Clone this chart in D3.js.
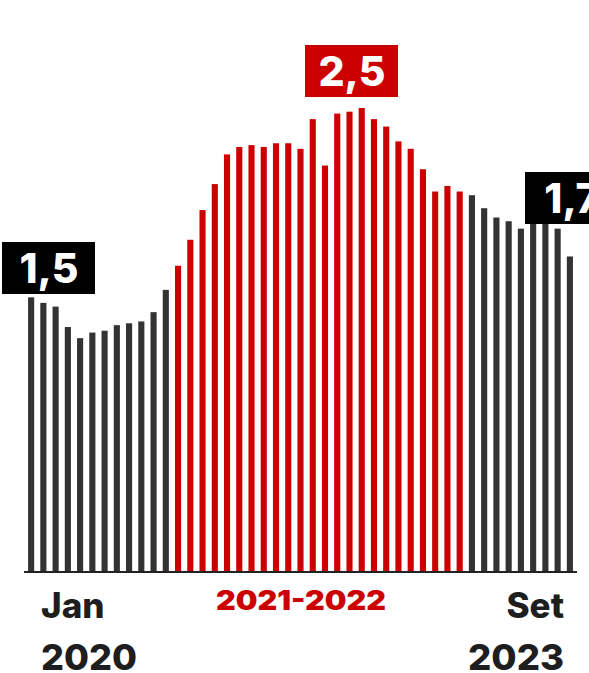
<!DOCTYPE html>
<html>
<head>
<meta charset="utf-8">
<script src="https://cdn.jsdelivr.net/npm/d3@7"></script>
<style>
  body { margin: 0; background: #fff; }
  svg { display: block; }
</style>
</head>
<body>
<script type="text/javascript">
	// monthly values, Jan 2020 .. Set 2023
	var months = d3.range(45).map(function(i) { return "m" + i; });
	var values = [
		1.48, 1.45, 1.43, 1.32, 1.26, 1.29, 1.30, 1.33, 1.34, 1.35, 1.40, 1.52,
		1.65, 1.79, 1.95, 2.09, 2.25, 2.29, 2.30, 2.29, 2.31, 2.31, 2.28, 2.44,
		2.19, 2.47, 2.48, 2.50, 2.44, 2.40, 2.32, 2.28, 2.17, 2.05, 2.08, 2.05,
		2.03, 1.96, 1.91, 1.89, 1.85, 1.92, 1.93, 1.85, 1.70
	];
	// months highlighted (2021-2022)
	var highlightStart = 12, highlightEnd = 35;
	var callouts = [
		{ index: 0, text: "1,5", fill: "#000" },
		{ index: 27, text: "2,5", fill: "#cc0000" },
		{ index: 44, text: "1,7", fill: "#000" }
	];
	var bottomLabels = [
		{ text: "Jan", anchor: "start", row: 0, side: "left" },
		{ text: "2020", anchor: "start", row: 1, side: "left" },
		{ text: "Set", anchor: "end", row: 0, side: "right" },
		{ text: "2023", anchor: "end", row: 1, side: "right" }
	];

	var width = 589, height = 673;
	var base = 572;
	var red = "#cc0000", grey = "#333333";
	var font = "Inter, 'Liberation Sans', sans-serif";

	var svg = d3.select("body")
				.append("svg")
				.attr("width", width)
				.attr("height", height);

	var x = d3.scaleBand()
				.domain(months)
				.range([25, 576])
				.paddingInner(0.5)
				.paddingOuter(0.25);

	var y = d3.scaleLinear()
				.domain([0, 2.5])
				.range([base, 108]);

	// bars
	svg.selectAll("rect.bar")
				.data(values)
				.enter()
				.append("rect")
				.attr("class", "bar")
				.attr("x", function(d, i) { return x(months[i]); })
				.attr("y", function(d) { return y(d); })
				.attr("width", x.bandwidth())
				.attr("height", function(d) { return base - y(d); })
				.attr("fill", function(d, i) {
					return (i >= highlightStart && i <= highlightEnd) ? red : grey;
				});

	// baseline
	svg.append("line")
				.attr("x1", 24)
				.attr("x2", 577)
				.attr("y1", base)
				.attr("y2", base)
				.style("stroke", "#222")
				.style("stroke-width", 2);

	// callout boxes
	var boxX = { 0: 2, 27: 305, 44: 525 };
	var boxY = { 0: 242, 27: 45, 44: 172 };
	callouts.forEach(function(c) {
		var bx = boxX[c.index], by = boxY[c.index];
		svg.append("rect")
					.attr("x", bx)
					.attr("y", by)
					.attr("width", 93)
					.attr("height", 52)
					.attr("fill", c.fill);
		svg.append("text")
					.attr("x", bx + 47)
					.attr("y", by + 41)
					.attr("text-anchor", "middle")
					.text(c.text)
					.attr("font-family", font)
					.attr("font-weight", 800)
					.attr("font-size", "41px")
					.attr("fill", "#fff");
	});

	// bottom labels
	bottomLabels.forEach(function(l) {
		var t = svg.append("text")
					.attr("x", l.side == "left" ? 41 : 564)
					.attr("y", l.row == 0 ? 618 : 670)
					.attr("text-anchor", l.anchor)
					.text(l.text)
					.attr("font-family", font)
					.attr("font-weight", 800)
					.attr("font-size", "35px")
					.attr("fill", "#1e1e1e");
		if (l.row == 1) {
			t.attr("font-size", "36px").attr("textLength", 96).attr("lengthAdjust", "spacingAndGlyphs");
		}
	});

	svg.append("text")
				.attr("x", 301)
				.attr("y", 610)
				.attr("text-anchor", "middle")
				.text("2021-2022")
				.attr("font-family", font)
				.attr("font-weight", 900)
				.attr("font-size", "27px")
				.attr("textLength", 170)
				.attr("lengthAdjust", "spacingAndGlyphs")
				.attr("fill", red);
</script>
</body>
</html>
